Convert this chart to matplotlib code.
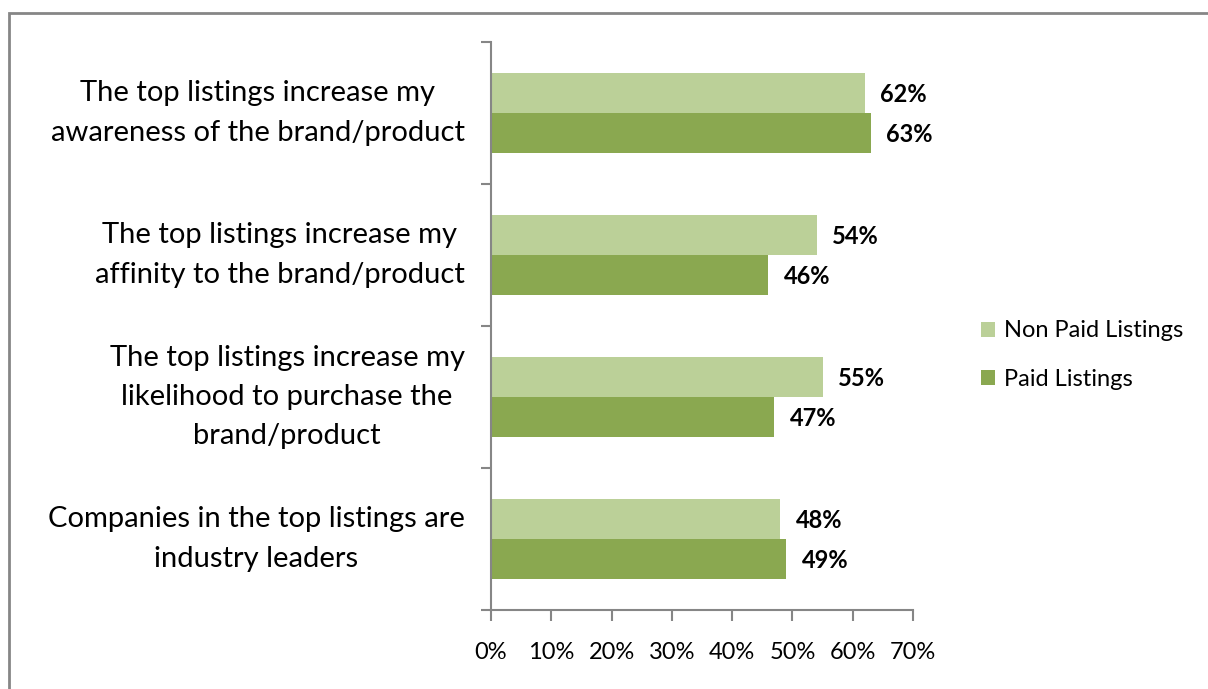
import matplotlib.pyplot as plt
from matplotlib.patches import Rectangle
from matplotlib.ticker import FuncFormatter, FixedLocator
import numpy as np

plt.rcParams['font.family'] = ['Lato', 'DejaVu Sans']

categories = [
    "The top listings increase my\nawareness of the brand/product",
    "The top listings increase my\naffinity to the brand/product",
    "The top listings increase my\nlikelihood to purchase the\nbrand/product",
    "Companies in the top listings are\nindustry leaders",
]
non_paid = [62, 54, 55, 48]
paid = [63, 46, 47, 49]
series_names = ["Non Paid Listings", "Paid Listings"]
x_ticks = [0, 10, 20, 30, 40, 50, 60, 70]

light = "#BBD098"
dark = "#8AA850"
axis_gray = "#868686"

fig = plt.figure(figsize=(12.08, 6.89), dpi=100)
ax = fig.add_axes([491 / 1208, 1 - 610 / 689, (913 - 491) / 1208, (610 - 42) / 689])

y = np.arange(len(categories))
h = 0.282
b1 = ax.barh(y - h / 2, non_paid, height=h, color=light, label=series_names[0])
b2 = ax.barh(y + h / 2, paid, height=h, color=dark, label=series_names[1])

for bars, vals in ((b1, non_paid), (b2, paid)):
    for rect, v in zip(bars, vals):
        ax.text(v + 2.6, rect.get_y() + rect.get_height() / 2 + 0.01, f"{v}%",
                va="center", ha="left", fontsize=17, fontweight="bold")

ax.set_xlim(0, 70)
ax.set_ylim(len(categories) - 0.5, -0.5)
ax.xaxis.set_major_locator(FixedLocator(x_ticks))
ax.xaxis.set_major_formatter(FuncFormatter(lambda v, p: f"{v:.0f}%"))
ax.tick_params(axis="x", labelsize=17, length=8, width=1.5, color=axis_gray, pad=15)

ax.set_yticks(y)
ax.set_yticklabels(categories, fontsize=21, multialignment="center", linespacing=1.62, va="center")
ax.tick_params(axis="y", which="major", length=0, pad=19)
ax.set_yticks(np.arange(-0.5, len(categories)), minor=True)
ax.tick_params(axis="y", which="minor", length=7, width=1.5, color=axis_gray)

for s in ("top", "right"):
    ax.spines[s].set_visible(False)
for s in ("left", "bottom"):
    ax.spines[s].set_color(axis_gray)
    ax.spines[s].set_linewidth(1.5)

leg = fig.legend(handles=[b1, b2], loc="center left", bbox_to_anchor=(960 / 1208, 1 - 355 / 689),
                 frameon=False, fontsize=17, handlelength=0.6, handleheight=0.6,
                 handletextpad=0.35, labelspacing=1.15)

# chart-area border
fig.add_artist(Rectangle((9 / 1208, -0.1), 1.2, 1 - 13 / 689 + 0.1, transform=fig.transFigure,
                         fill=False, edgecolor=axis_gray, linewidth=2))

fig.savefig("out.png", dpi=100)
